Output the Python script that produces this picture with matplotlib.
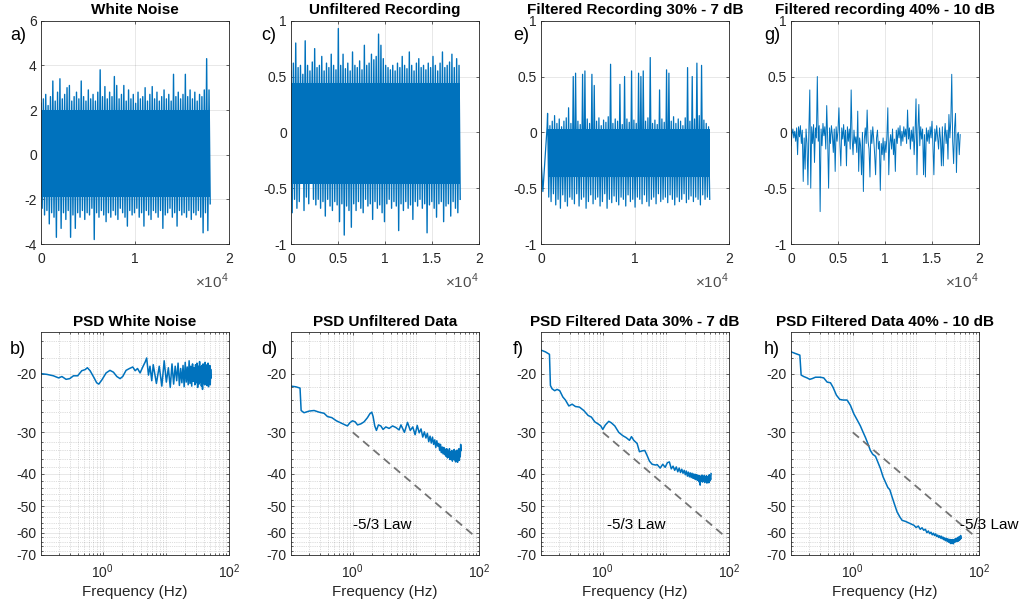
import numpy as np
import matplotlib
matplotlib.use('Agg')
import matplotlib.pyplot as plt
from matplotlib.ticker import FixedLocator, NullFormatter

plt.rcParams['font.family'] = ['Liberation Sans', 'DejaVu Sans']
plt.rcParams['mathtext.fontset'] = 'custom'
plt.rcParams['mathtext.rm'] = 'Liberation Sans'
plt.rcParams['axes.unicode_minus'] = False

BLUE = '#0072BD'
DARK = '#262626'

### time series: envelope peaks (upper) and troughs (lower),
### plus the solid central band that the dense trace fills
upper_a = [2.3, 2.5, 2.7, 2.2, 2.6, 3.3, 2.4, 2.8, 3.4, 2.5,
           2.7, 3.0, 3.1, 2.4, 2.6, 2.8, 2.5, 3.3, 2.6, 2.4,
           2.9, 2.5, 2.7, 2.4, 2.8, 3.8, 2.6, 3.05, 2.5, 2.8,
           2.6, 3.5, 3.1, 2.5, 2.7, 3.1, 2.4, 2.9, 2.5, 2.7,
           2.3, 2.8, 2.5, 2.6, 3.0, 2.4, 2.7, 3.05, 2.5, 2.8,
           2.4, 2.6, 2.9, 2.5, 2.7, 2.4, 3.6, 2.6, 2.8, 2.5,
           2.7, 3.6, 2.6, 2.9, 2.5, 2.8, 2.4, 2.7, 2.6, 2.9,
           4.3, 2.9]
lower_a = [-2.4, -2.7, -2.5, -3.1, -2.6, -2.8, -3.7, -2.5, -3.3, -2.6,
           -2.9, -2.5, -3.7, -2.7, -3.3, -2.6, -2.8, -2.5, -2.9, -2.6,
           -2.7, -2.4, -3.8, -2.6, -2.8, -2.5, -2.7, -3.0, -2.6, -2.8,
           -2.5, -2.7, -2.9, -2.4, -2.6, -2.8, -3.2, -2.5, -2.7, -2.6,
           -2.4, -2.8, -2.6, -3.2, -2.5, -2.7, -2.9, -2.5, -2.6, -2.8,
           -2.5, -3.3, -2.7, -2.6, -2.4, -2.8, -2.6, -3.2, -2.5, -2.7,
           -2.6, -2.8, -2.5, -2.9, -2.6, -2.7, -2.5, -2.8, -3.5, -2.6,
           -3.4, -2.2]
core_a = (-1.9, 2.0)

upper_c = [0.55, 0.62, 0.8, 0.58, 0.6, 0.52, 0.82, 0.6, 0.55, 0.63,
           0.75, 0.58, 0.6, 0.68, 0.55, 0.62, 0.58, 0.7, 0.6, 0.56,
           0.93, 0.6, 0.7, 0.57, 0.62, 0.55, 0.72, 0.6, 0.58, 0.64,
           0.56, 0.78, 0.6, 0.62, 0.7, 0.65, 0.68, 0.88, 0.78, 0.66,
           0.6, 0.58, 0.56, 0.6, 0.55, 0.62, 0.58, 0.68, 0.6, 0.57,
           0.72, 0.6, 0.55, 0.62, 0.66, 0.58, 0.6, 0.56, 0.62, 0.58,
           0.68, 0.6, 0.55, 0.62, 0.72, 0.58, 0.6, 0.63, 0.7, 0.58,
           0.66, 0.6]
lower_c = [-0.72, -0.6, -0.68, -0.62, -0.3, -0.7, -0.58, -0.64, -0.25, -0.6,
           -0.65, -0.6, -0.68, -0.62, -0.75, -0.6, -0.66, -0.7, -0.62, -0.65,
           -0.8, -0.64, -0.92, -0.66, -0.7, -0.85, -0.64, -0.7, -0.62, -0.68,
           -0.72, -0.6, -0.66, -0.64, -0.78, -0.62, -0.68, -0.65, -0.72, -0.8,
           -0.64, -0.6, -0.68, -0.62, -0.66, -0.88, -0.64, -0.7, -0.62, -0.68,
           -0.65, -0.78, -0.62, -0.66, -0.6, -0.68, -0.64, -0.9, -0.65, -0.62,
           -0.68, -0.76, -0.64, -0.62, -0.8, -0.66, -0.64, -0.75, -0.62, -0.68,
           -0.72, -0.6]
core_c = (-0.46, 0.44)

e_start_t = [0, 50, 200, 650]
e_start_y = [-0.07, -0.3, -0.53, 0.05]
upper_e = [0.17, 0.06, 0.1, 0.15, 0.08, 0.12, 0.05, 0.1, 0.13, 0.22,
           0.08, 0.5, 0.53, 0.1, 0.07, 0.52, 0.55, 0.12, 0.08, 0.52,
           0.42, 0.1, 0.13, 0.06, 0.11, 0.09, 0.14, 0.61, 0.08, 0.12,
           0.1, 0.43, 0.07, 0.5, 0.12, 0.09, 0.55, 0.11, 0.08, 0.53,
           0.5, 0.55, 0.1, 0.13, 0.67, 0.08, 0.11, 0.07, 0.38, 0.12,
           0.09, 0.56, 0.53, 0.1, 0.14, 0.08, 0.12, 0.1, 0.06, 0.13,
           0.58, 0.1, 0.5, 0.12, 0.62, 0.15, 0.6, 0.11, 0.08, 0.05]
lower_e = [-0.58, -0.62, -0.55, -0.65, -0.6, -0.68, -0.56, -0.62, -0.66, -0.58,
           -0.6, -0.64, -0.55, -0.66, -0.6, -0.58, -0.68, -0.62, -0.56, -0.64,
           -0.6, -0.58, -0.66, -0.62, -0.55, -0.68, -0.6, -0.63, -0.57, -0.62,
           -0.65, -0.58, -0.6, -0.66, -0.56, -0.62, -0.6, -0.67, -0.58, -0.6,
           -0.64, -0.56, -0.62, -0.66, -0.6, -0.58, -0.64, -0.55, -0.62, -0.6,
           -0.58, -0.63, -0.56, -0.6, -0.65, -0.58, -0.62, -0.6, -0.55, -0.63,
           -0.6, -0.57, -0.62, -0.58, -0.6, -0.65, -0.56, -0.6, -0.58, -0.6]
core_e = (-0.4, 0.03)

rec_g = [-0.12, -0.02, 0.03, -0.05, 0.01, -0.08, 0.04, -0.2, 0.05, -0.04,
         0.06, -0.1, 0.02, -0.44, -0.05, -0.33, 0.03, -0.1, -0.47, 0.02,
         0.38, -0.5, 0.05, -0.1, 0.07, -0.27, 0.04, -0.05, 0.5, -0.08,
         0.06, -0.71, 0.03, -0.12, 0.08, -0.03, 0.05, -0.15, 0.24, -0.06,
         -0.5, 0.04, -0.1, 0.06, -0.02, -0.18, 0.03, -0.35, 0.05, -0.08,
         0.02, 0.22, -0.1, -0.3, 0.04, -0.06, 0.07, -0.12, 0.02, -0.3,
         0.05, -0.08, 0.03, -0.15, 0.38, -0.05, -0.2, 0.02, -0.1, -0.04,
         -0.18, 0.19, -0.35, -0.05, -0.12, -0.38, 0.0, -0.53, -0.06, 0.04,
         -0.1, 0.2, -0.08, -0.15, -0.4, 0.02, -0.1, 0.05, -0.06, -0.2,
         -0.38, -0.05, 0.02, -0.15, -0.08, -0.52, -0.1, -0.2, -0.05, -0.25,
         -0.08, -0.18, -0.04, 0.22, -0.38, -0.1, -0.02, -0.15, 0.03, -0.2,
         -0.06, -0.35, 0.02, -0.1, 0.04, -0.05, 0.06, -0.12, 0.01, -0.08,
         0.05, -0.04, 0.03, -0.1, 0.2, -0.06, 0.04, -0.15, 0.02, -0.08,
         0.05, -0.2, 0.0, 0.3, -0.38, 0.02, 0.25, -0.12, 0.05, -0.06,
         0.03, -0.38, -0.02, -0.4, 0.04, -0.08, 0.02, -0.1, 0.05, -0.05,
         0.1, -0.12, -0.38, 0.03, -0.08, 0.06, -0.04, -0.15, 0.04, -0.06,
         -0.3, 0.05, -0.3, -0.05, 0.08, -0.1, 0.02, -0.24, 0.16, -0.05,
         0.1, 0.52, -0.08, -0.28, 0.04, 0.17, -0.36, -0.02, 0.0, -0.2,
         -0.02]

### PSD curves (dB): smooth low-frequency part + noisy high-frequency part
f_b = [0.105, 0.13, 0.165, 0.2, 0.225, 0.262, 0.30, 0.343, 0.40, 0.465,
       0.525, 0.57, 0.63, 0.73, 0.80, 0.865, 0.965, 1.13, 1.3, 1.475,
       1.67, 1.88, 2.07, 2.34, 2.65, 2.99, 3.26, 3.55, 3.9, 4.3,
       4.7, 4.96, 5.3, 5.6, 5.97]
psd_b = [-20.0, -20.1, -20.3, -20.6, -20.4, -20.8, -20.7, -20.3, -20.3, -19.6,
         -19.45, -19.2, -19.6, -20.6, -21.3, -21.5, -20.9, -19.9, -19.55, -19.8,
         -20.4, -20.7, -20.4, -19.55, -19.3, -19.1, -19.6, -19.3, -19.9, -19.1,
         -18.45, -17.95, -20.2, -19.0, -21.0]
noise_b = [-18.8, -21.4, -19.0, -21.8, -18.3, -21.2, -19.2, -22.0, -18.7, -21.5,
           -19.0, -21.0, -18.6, -21.7, -19.3, -21.3, -18.9, -21.9, -18.5, -21.2,
           -19.1, -21.6, -18.3, -21.4, -19.0, -21.8, -18.7, -21.1, -19.2, -21.6,
           -18.8, -21.3, -18.6, -22.0, -19.0, -21.5, -18.4, -21.2, -19.1, -21.8,
           -18.9, -22.3, -18.7, -21.4, -19.2, -21.6, -18.5, -21.2, -19.0, -21.7,
           -18.8, -21.3, -18.6, -21.9, -19.1, -21.4, -18.9, -21.6, -19.4, -20.6]

f_d = [0.105, 0.125, 0.146, 0.152, 0.169, 0.204, 0.244, 0.293, 0.351, 0.397,
       0.465, 0.55, 0.645, 0.756, 0.823, 0.896, 0.988, 1.09, 1.19, 1.34,
       1.51, 1.71, 1.86, 2.0, 2.1, 2.23, 2.37, 2.55, 2.78, 3.02,
       3.34, 3.77, 4.26, 4.8, 5.42]
psd_d = [-21.8, -21.9, -22.1, -25.8, -26.2, -25.9, -25.8, -26.1, -26.3, -26.9,
         -27.1, -27.7, -28.1, -28.5, -28.7, -28.1, -27.7, -27.9, -28.5, -28.3,
         -27.9, -27.1, -26.4, -26.1, -26.9, -28.7, -29.6, -28.5, -28.7, -29.4,
         -28.9, -29.2, -28.7, -29.0, -29.5]
noise_d = [-28.5, -30.0, -28.0, -29.6, -28.9, -30.5, -28.6, -30.1, -29.3, -31.0,
           -29.9, -31.2, -30.2, -32.0, -30.8, -32.3, -31.0, -32.6, -31.6, -33.3,
           -31.8, -33.0, -32.4, -34.0, -32.6, -34.5, -33.2, -34.8, -33.3, -35.0,
           -33.7, -35.4, -33.6, -35.8, -34.2, -35.6, -33.6, -36.2, -34.3, -36.0,
           -34.0, -36.6, -34.5, -36.1, -33.8, -36.3, -34.1, -36.8, -34.6, -36.2,
           -33.9, -36.9, -34.4, -36.0, -33.6, -36.4, -34.1, -35.5, -32.6, -34.0]

f_f = [0.105, 0.123, 0.143, 0.148, 0.157, 0.173, 0.189, 0.208, 0.233, 0.256,
       0.29, 0.327, 0.369, 0.427, 0.5, 0.586, 0.66, 0.747, 0.843, 0.93,
       1.0, 1.1, 1.245, 1.37, 1.55, 1.79, 2.075, 2.34, 2.65, 2.85,
       3.1, 3.5, 3.81, 4.2, 4.63, 5.04, 5.49, 6.05, 6.85]
psd_f = [-17.0, -17.2, -17.5, -21.7, -22.2, -22.5, -22.3, -22.5, -23.5, -24.0,
         -25.0, -24.7, -25.1, -25.2, -25.8, -26.7, -27.0, -27.9, -28.3, -28.7,
         -29.4, -28.5, -27.8, -28.1, -28.7, -30.0, -30.7, -31.1, -31.7, -30.9,
         -31.7, -32.4, -34.3, -34.1, -34.0, -35.2, -36.6, -37.4, -37.6]
noise_f = [-37.5, -38.4, -37.4, -38.2, -37.0, -36.8, -38.6, -37.9, -39.0, -38.1,
           -39.4, -38.4, -39.6, -38.7, -39.8, -39.0, -40.2, -39.2, -40.6, -39.5,
           -40.8, -39.7, -41.0, -39.8, -41.2, -40.0, -41.4, -40.1, -41.6, -40.2,
           -41.8, -40.4, -42.2, -40.5, -43.2, -40.6, -42.0, -40.3, -42.3, -40.7,
           -41.9, -40.4, -42.4, -40.8, -42.0, -40.5, -42.6, -40.9, -42.2, -40.6,
           -42.5, -40.2, -42.0, -40.8, -41.6, -39.9]

f_h = [0.105, 0.123, 0.145, 0.152, 0.167, 0.189, 0.208, 0.227, 0.256, 0.307,
       0.347, 0.392, 0.443, 0.488, 0.55, 0.622, 0.703, 0.813, 0.918, 1.04,
       1.17, 1.32, 1.46, 1.59, 1.73, 1.9, 2.07, 2.29, 2.49, 2.74,
       3.02, 3.29, 3.59, 3.86, 4.2, 4.58, 5.04, 5.56, 6.05, 6.85,
       7.74, 8.75]
psd_h = [-17.2, -17.4, -17.6, -20.2, -20.4, -20.6, -20.8, -20.7, -20.5, -20.5,
         -20.6, -21.2, -21.3, -22.0, -23.2, -23.9, -24.0, -24.0, -24.9, -26.4,
         -27.5, -28.7, -30.0, -31.1, -32.4, -34.0, -34.9, -35.4, -36.8, -38.5,
         -40.8, -42.3, -43.9, -44.6, -46.9, -49.3, -52.0, -53.8, -55.1, -55.5,
         -56.1, -56.7]
noise_h = [-57.0, -57.9, -57.3, -58.6, -58.0, -59.0, -58.6, -60.0, -59.3, -60.4,
           -59.8, -60.9, -60.2, -61.2, -60.5, -61.6, -61.0, -62.0, -61.3, -62.3,
           -61.5, -62.6, -61.9, -63.0, -62.2, -63.4, -62.4, -63.6, -62.6, -64.0,
           -62.8, -64.3, -62.9, -64.7, -63.0, -64.5, -62.9, -64.8, -63.1, -64.2,
           -62.7, -63.9, -62.5, -63.8, -62.3, -63.5, -62.0, -63.6, -61.8, -63.2,
           -61.6, -62.8, -61.2, -62.4]
noise_start = {'b': 6.3, 'd': 5.8, 'f': 7.3, 'h': 9.3}
f_nyq = 52.0

### -5/3 reference line and its label
law_f = [1.0, 92.0]
law_db = [-30.0, -62.2]
law_text_f = {'d': 1.0, 'f': 1.17, 'h': 49.6}
law_text_db = -57.0


def zigzag(upper, lower, t0, t1):
    y = np.ravel(np.column_stack([upper, lower]))
    return np.linspace(t0, t1, len(y)), y


def fwd(y):
    return -np.log10(np.clip(-np.asarray(y, dtype=float), 1e-3, None))


def inv(t):
    return -10.0 ** (-np.asarray(t, dtype=float))


W, H = 1020, 606
fig = plt.figure(figsize=(W / 100, H / 100), dpi=100)
lefts = [41, 291, 541, 791]


def add_ax(left, top, width=188, height=223.3):
    return fig.add_axes([left / W, 1 - (top + height) / H, width / W, height / H])


def frame(ax):
    for s in ax.spines.values():
        s.set_color(DARK)
        s.set_linewidth(0.6)
    ax.tick_params(which='both', direction='in', top=True, right=True,
                   width=0.5, colors=DARK, labelsize=10, labelcolor=DARK)
    ax.tick_params(which='major', length=2.5)
    ax.tick_params(which='minor', length=1.5)


### top row #####################################################################
t_a, y_a = zigzag(upper_a, lower_a, 0, 18000)
t_c, y_c = zigzag(upper_c, lower_c, 0, 18000)
t_e, y_e = zigzag(upper_e, lower_e, 700, 17950)
t_e = np.concatenate([e_start_t, t_e])
y_e = np.concatenate([e_start_y, y_e])
t_g = np.linspace(0, 18000, len(rec_g))

top = [
    ('White Noise', t_a, y_a, core_a, (0, 18000), (-4, 6), [-4, -2, 0, 2, 4, 6],
     ['-4', '-2', '0', '2', '4', '6'], [0, 10000, 20000], ['0', '1', '2'], 1.0),
    ('Unfiltered Recording', t_c, y_c, core_c, (0, 18000), (-1, 1), [-1, -0.5, 0, 0.5, 1],
     ['-1', '-0.5', '0', '0.5', '1'], [0, 5000, 10000, 15000, 20000], ['0', '0.5', '1', '1.5', '2'], 1.0),
    ('Filtered Recording 30% - 7 dB', t_e, y_e, core_e, (700, 17950), (-1, 1), [-1, -0.5, 0, 0.5, 1],
     ['-1', '-0.5', '0', '0.5', '1'], [0, 10000, 20000], ['0', '1', '2'], 0.9),
    ('Filtered recording 40% - 10 dB', t_g, np.array(rec_g), None, None, (-1, 1), [-1, -0.5, 0, 0.5, 1],
     ['-1', '-0.5', '0', '0.5', '1'], [0, 5000, 10000, 15000, 20000], ['0', '0.5', '1', '1.5', '2'], 0.7),
]
for i, (title, t, y, core, span, ylim, yt, ytl, xt, xtl, lw) in enumerate(top):
    ax = add_ax(lefts[i], 20.7)
    if core is not None:
        ax.fill_between(span, core[0], core[1], color=BLUE, lw=0)
    ax.plot(t, y, color=BLUE, lw=lw)
    ax.set_xlim(0, 20000)
    ax.set_ylim(*ylim)
    ax.set_xticks(xt, xtl)
    ax.set_yticks(yt, ytl)
    frame(ax)
    ax.tick_params(axis='x', pad=6)
    ax.tick_params(axis='y', pad=3)
    ax.grid(True, color=DARK, alpha=0.15, lw=0.5)
    ax.set_axisbelow(True)
    ax.set_title(title, fontsize=11, fontweight='bold', pad=5)
    ax.text(1.0, -0.166, r'$\times$10$^4$', transform=ax.transAxes, ha='right', va='center',
            fontsize=11, color='0.3')

### bottom row ##################################################################
psd = [
    ('b', 'PSD White Noise', f_b, psd_b, noise_b),
    ('d', 'PSD Unfiltered Data', f_d, psd_d, noise_d),
    ('f', 'PSD Filtered Data 30% - 7 dB', f_f, psd_f, noise_f),
    ('h', 'PSD Filtered Data 40% - 10 dB', f_h, psd_h, noise_h),
]
minor_x = [k * 10.0 ** d for d in (-1, 0, 1) for k in range(2, 10)] + [10.0]
majors_y = [-70, -60, -50, -40, -30, -20]
minor_y = [v for v in range(-68, -15, 2) if v not in majors_y]

for i, (key, title, f, p, noise) in enumerate(psd):
    ax = add_ax(lefts[i], 332, height=223)
    fn = np.linspace(noise_start[key], f_nyq, len(noise))
    ax.plot(np.concatenate([f, fn]), np.concatenate([p, noise]), color=BLUE, lw=1.1)
    if key != 'b':
        ax.plot(law_f, law_db, color='0.45', lw=1.3, dashes=(4.5, 3))
        ax.text(law_text_f[key], law_text_db, '-5/3 Law', fontsize=11, ha='left', va='center',
                clip_on=False)
    ax.set_xscale('log')
    ax.set_yscale('function', functions=(fwd, inv))
    ax.set_xlim(0.105, 100)
    ax.set_ylim(-70, -15)
    ax.set_xticks([1, 100])
    ax.xaxis.set_minor_locator(FixedLocator(minor_x))
    ax.xaxis.set_minor_formatter(NullFormatter())
    ax.set_yticks(majors_y, [str(v) for v in majors_y])
    ax.yaxis.set_minor_locator(FixedLocator(minor_y))
    ax.yaxis.set_minor_formatter(NullFormatter())
    frame(ax)
    ax.tick_params(axis='x', pad=5)
    ax.tick_params(axis='y', pad=3)
    ax.grid(True, which='major', color=DARK, alpha=0.15, lw=0.5)
    ax.grid(True, which='minor', color=DARK, alpha=0.3, lw=0.5, linestyle=':')
    ax.set_axisbelow(True)
    ax.set_title(title, fontsize=11, fontweight='bold', pad=4)
    ax.set_xlabel('Frequency (Hz)', fontsize=11, labelpad=3, color=DARK)

### panel letters
label_x = [10, 261, 513, 764]
for i, (a, b) in enumerate(zip('aceg', 'bdfh')):
    fig.text(label_x[i] / W, 1 - 36 / H, a + ')', fontsize=13, ha='left', va='center')
    fig.text(label_x[i] / W, 1 - 350 / H, b + ')', fontsize=13, ha='left', va='center')

fig.savefig('out.png', dpi=100)
